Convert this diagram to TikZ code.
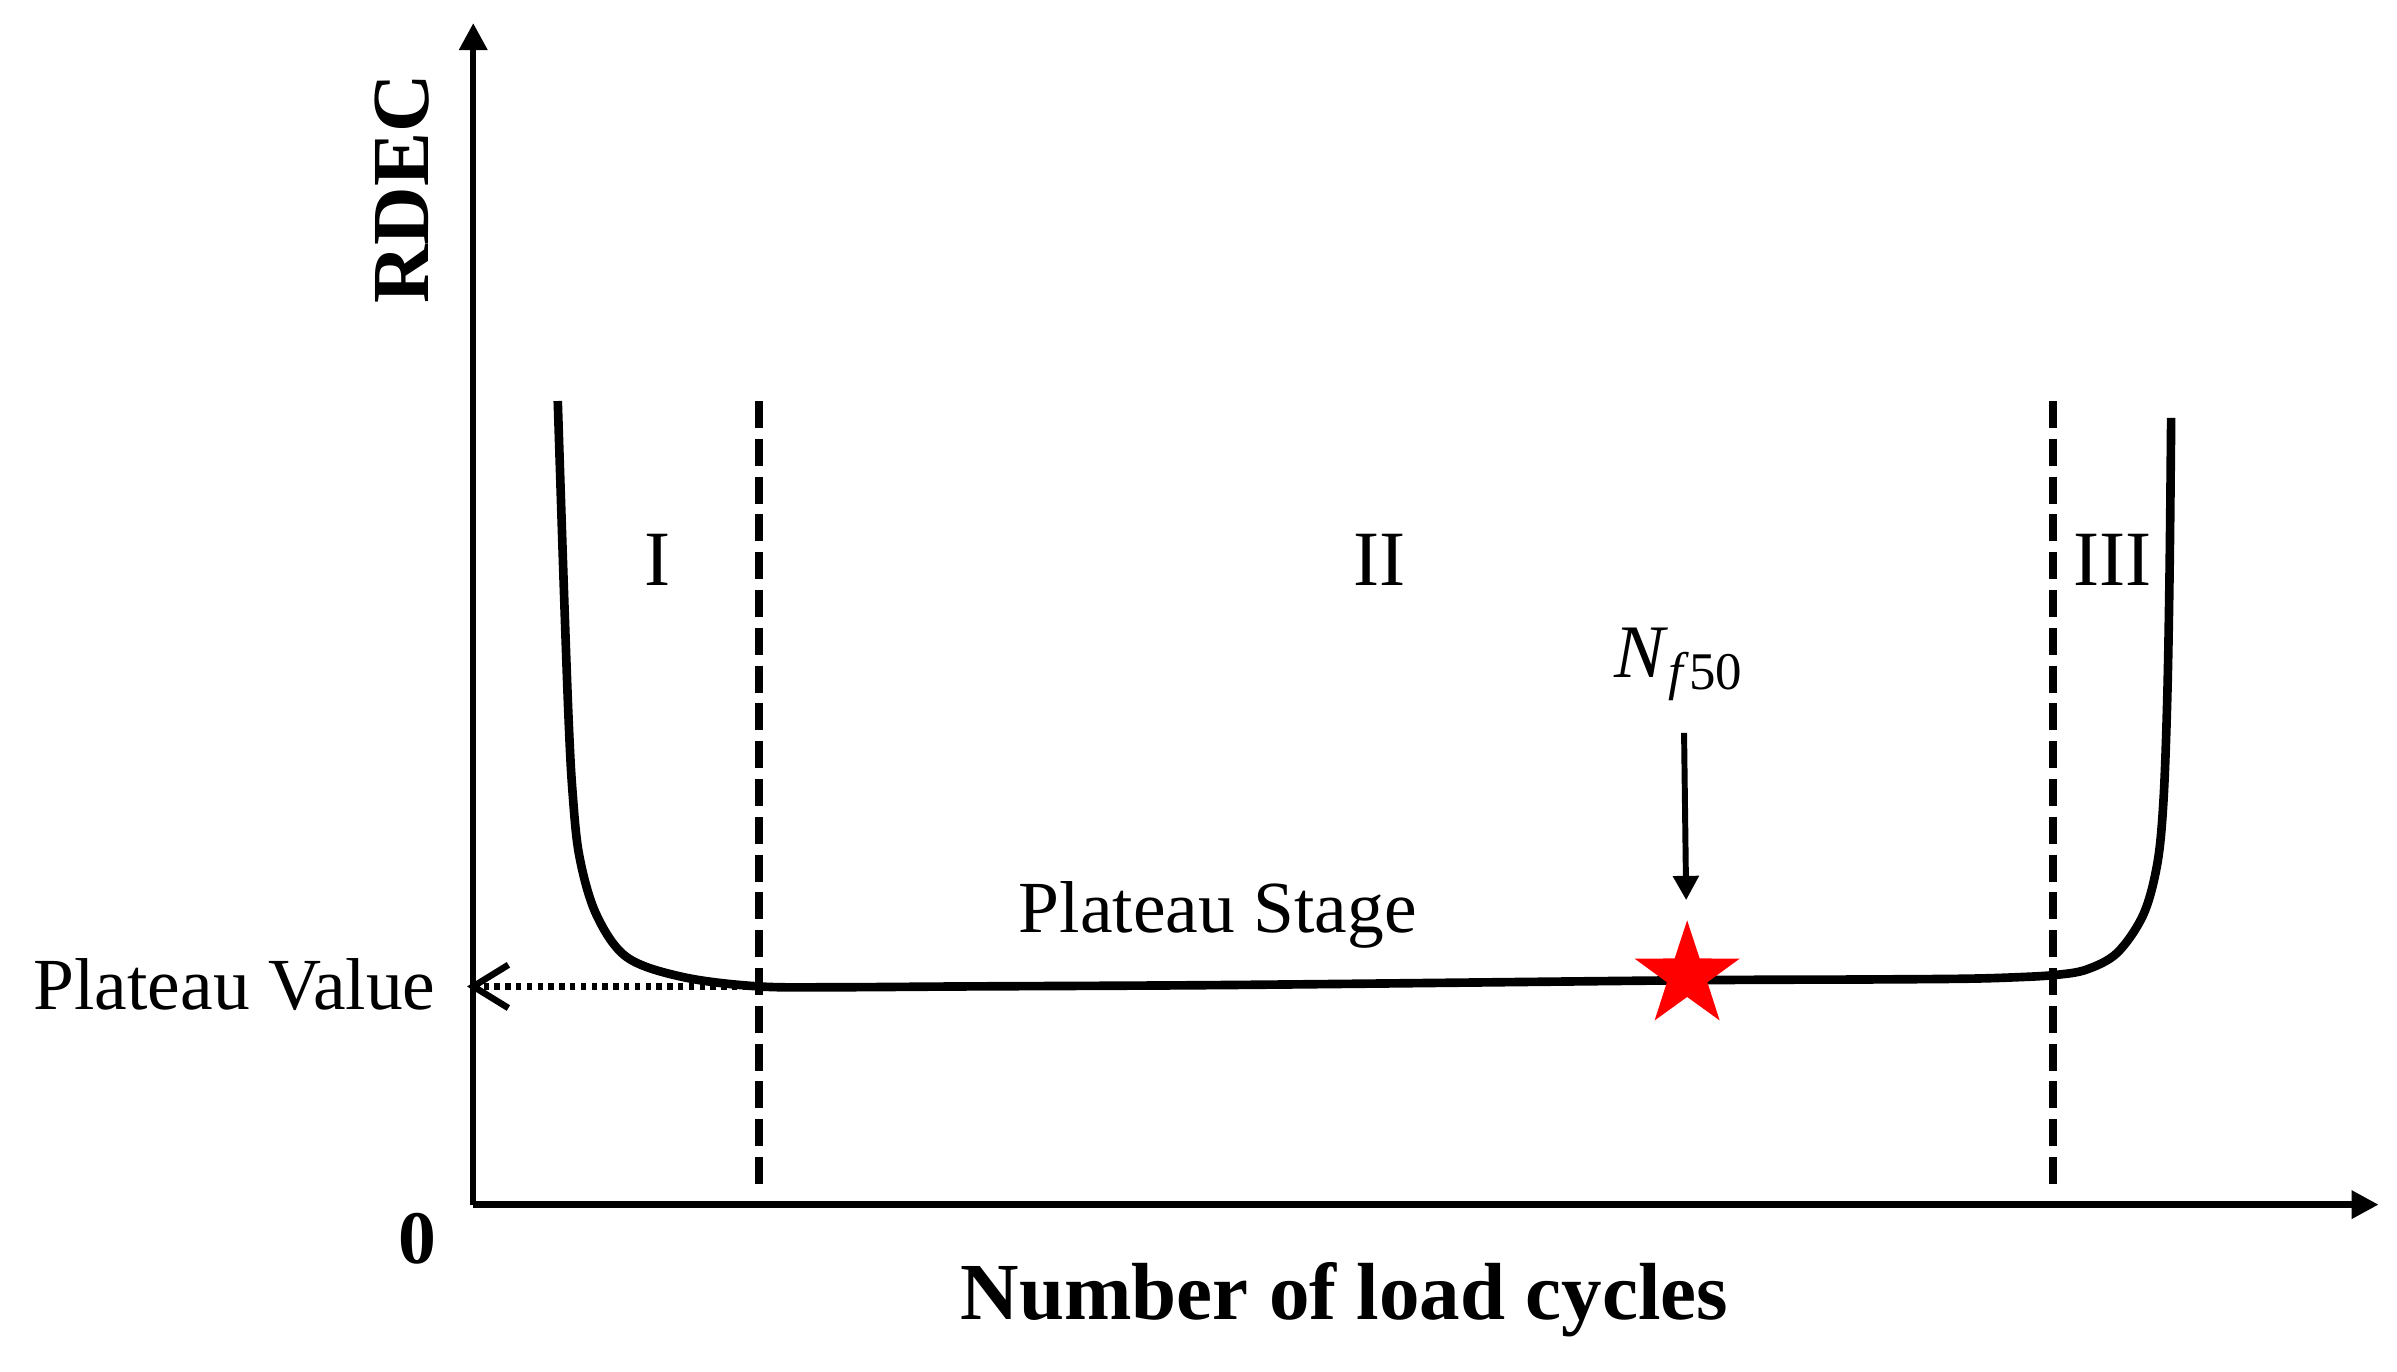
\documentclass[tikz,border=0pt]{standalone}
\usepackage{fontspec}
\setmainfont{Liberation Serif}
\usetikzlibrary{arrows.meta,shapes.geometric}

\begin{document}
\begin{tikzpicture}[
  axis/.style={line width=1.2pt,-{Triangle[length=5pt,width=5pt]}},
  stageline/.style={line width=1.5pt,dash pattern=on 5pt off 2pt},
  rdecline/.style={line width=1.6pt,line join=round},
  lbl/.style={font=\fontsize{13.6}{16}\selectfont,inner sep=0pt},
  stagelbl/.style={font=\fontsize{14.5}{17}\selectfont,inner sep=0pt},
  axlbl/.style={font=\fontsize{15}{18}\selectfont\bfseries,inner sep=0pt}
]
\useasboundingbox (-3.08,-1.083) rectangle (12.52,7.84);

\coordinate (O) at (0,0);
\coordinate (ytop) at (0,7.69);
\coordinate (xend) at (12.40,0);
\draw[axis] (O) -- (ytop);
\draw[axis] (O) -- (xend);
\node[axlbl,rotate=90] (ylab) at (-0.46,6.61) {RDEC};
\node[axlbl,font=\fontsize{14}{16}\selectfont\bfseries,anchor=base] (zero) at (-0.365,-0.38) {0};
\node[axlbl,anchor=base] (xlab) at (5.67,-0.75) {Number of load cycles};

%---------------------------------
% stage borders
\coordinate (b1top) at (1.86,5.23);
\coordinate (b1bot) at (1.86,0.08);
\coordinate (b2top) at (10.28,5.23);
\coordinate (b2bot) at (10.28,0.08);
\draw[stageline] (b1top) -- (b1bot);
\draw[stageline] (b2top) -- (b2bot);

\node[stagelbl,anchor=base] (s1) at (1.20,4.03) {I};
\node[stagelbl,anchor=base] (s2) at (5.90,4.03) {II};
\node[stagelbl,anchor=base] (s3) at (10.67,4.03) {III};

%---------------------------------
% RDEC curve
\draw[rdecline] plot[smooth,tension=0.55] coordinates {(0.55,5.23) (0.59,4.00) (0.62,3.17) (0.645,2.70) (0.69,2.27) (0.80,1.89) (1.00,1.61) (1.37,1.48) (1.86,1.42) (2.40,1.415) (3.20,1.42) (5.00,1.43) (7.90,1.46) (9.00,1.465) (9.70,1.47) (10.05,1.48) (10.30,1.495) (10.50,1.53) (10.70,1.64) (10.87,1.89) (10.96,2.22) (11.00,2.63) (11.025,3.31) (11.04,4.14) (11.05,5.12)};

\node[lbl,anchor=base] (pstage) at (4.845,1.77) {Plateau Stage};

% plateau value
\node[lbl,anchor=base east] (pval) at (-0.24,1.27) {Plateau Value};
\coordinate (pv) at (1.86,1.42);
\coordinate (pvtip) at (-0.04,1.42);
\draw[line width=1.3pt,dash pattern=on 1pt off 1pt,-{Straight Barb[length=6.5pt,width=8pt,line width=1.2pt]}] (pv) -- (pvtip);

% N_f50
\node[star,star points=5,star point ratio=2.6,fill=red,minimum size=0.72cm,inner sep=0pt] (nfstar) at (7.90,1.49) {};
\node[lbl,font=\fontsize{14}{16}\selectfont,anchor=base west] (nf) at (7.42,3.43) {\textit{N}\textsubscript{\textit{f}50}};
\coordinate (nfa) at (7.88,3.07);
\draw[line width=1.1pt,-{Triangle[length=4.5pt,width=4.6pt]},shorten >=3.5pt] (nfa) -- (nfstar);

\end{tikzpicture}
\end{document}
